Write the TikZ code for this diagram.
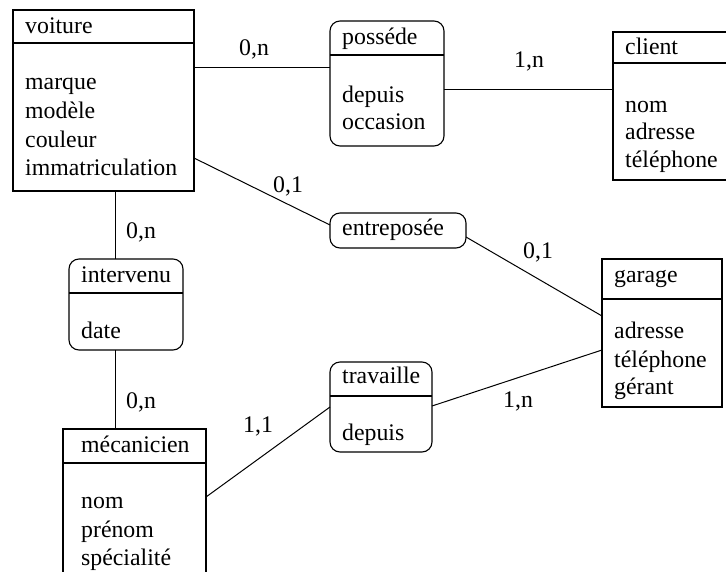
\documentclass[tikz,border=0pt]{standalone}
\usepackage{fontspec}
\setmainfont{Liberation Serif}
\begin{document}
\begin{tikzpicture}[x=1pt,y=-1pt,
  box/.style={draw, line width=1.1pt, inner sep=0pt, outer sep=0pt, anchor=north west},
  rbox/.style={box, rounded corners=10pt},
  txt/.style={anchor=base west, inner sep=0pt, font=\fontsize{23.8}{28}\selectfont},
  conn/.style={line width=1pt},
  sep/.style={line width=1.1pt}]
\useasboundingbox (0,0) rectangle (726,571);
% boxes
\node[box, minimum width=181pt, minimum height=181pt] (voiture) at (13,10) {};
\node[rbox, minimum width=114pt, minimum height=125pt] (possede) at (330,21) {};
\node[box, minimum width=114pt, minimum height=148pt] (client) at (613,32) {};
\node[rbox, minimum width=136pt, minimum height=35pt] (entreposee) at (330,213) {};
\node[box, minimum width=120pt, minimum height=148pt] (garage) at (602,259) {};
\node[rbox, minimum width=114pt, minimum height=91pt] (intervenu) at (69,259) {};
\node[rbox, minimum width=102pt, minimum height=90pt] (travaille) at (330,362) {};
\node[box, minimum width=143pt, minimum height=180pt] (mecanicien) at (63,429) {};
% dividers
\draw[sep] (voiture.west |- 0,43) -- (voiture.east |- 0,43);
\draw[sep] (possede.west |- 0,55) -- (possede.east |- 0,55);
\draw[sep] (client.west |- 0,63) -- (client.east |- 0,63);
\draw[sep] (garage.west |- 0,299) -- (garage.east |- 0,299);
\draw[sep] (intervenu.west |- 0,293) -- (intervenu.east |- 0,293);
\draw[sep] (travaille.west |- 0,396) -- (travaille.east |- 0,396);
\draw[sep] (mecanicien.west |- 0,463) -- (mecanicien.east |- 0,463);
% texts
\node[txt] (tv0) at (25,33) {voiture};
\node[txt] (tv1) at (25,89.5) {marque};
\node[txt] (tv2) at (25,118) {modèle};
\node[txt] (tv3) at (25,147) {couleur};
\node[txt] (tv4) at (25,175) {immatriculation};
\node[txt] (tp0) at (342,44) {posséde};
\node[txt] (tp1) at (342,102) {depuis};
\node[txt] (tp2) at (342,129) {occasion};
\node[txt] (tc0) at (625,54) {client};
\node[txt] (tc1) at (625,112) {nom};
\node[txt] (tc2) at (625,139) {adresse};
\node[txt] (tc3) at (625,167) {téléphone};
\node[txt] (te0) at (342,235) {entreposée};
\node[txt] (tg0) at (614,282) {garage};
\node[txt] (tg1) at (614,338) {adresse};
\node[txt] (tg2) at (614,367) {téléphone};
\node[txt] (tg3) at (614,394) {gérant};
\node[txt] (ti0) at (81,282) {intervenu};
\node[txt] (ti1) at (81,338) {date};
\node[txt] (tt0) at (342,383) {travaille};
\node[txt] (tt1) at (342,440) {depuis};
\node[txt] (tm0) at (81,452) {mécanicien};
\node[txt] (tm1) at (81,508) {nom};
\node[txt] (tm2) at (81,537) {prénom};
\node[txt] (tm3) at (81,565) {spécialité};
% connectors
\draw[conn] (voiture.east |- 0,67) -- (possede.west |- 0,67);
\draw[conn] (possede.east |- 0,89) -- (client.west |- 0,89);
\draw[conn] (voiture.east |- 0,158) -- (entreposee.west |- 0,225);
\draw[conn] (entreposee.east |- 0,237) -- (garage.west |- 0,316);
\draw[conn] (voiture.south -| 115,0) -- (intervenu.north -| 115,0);
\draw[conn] (intervenu.south -| 115,0) -- (mecanicien.north -| 115,0);
\draw[conn] (mecanicien.east |- 0,497) -- (travaille.west |- 0,407);
\draw[conn] (travaille.east |- 0,406) -- (garage.west |- 0,350);
% labels
\node[txt] (l1) at (239,55) {0,n};
\node[txt] (l2) at (514,67) {1,n};
\node[txt] (l3) at (273,192) {0,1};
\node[txt] (l4) at (523,258) {0,1};
\node[txt] (l5) at (126,238) {0,n};
\node[txt] (l6) at (126,408) {0,n};
\node[txt] (l7) at (503,407) {1,n};
\node[txt] (l8) at (243,432) {1,1};
\end{tikzpicture}
\end{document}
